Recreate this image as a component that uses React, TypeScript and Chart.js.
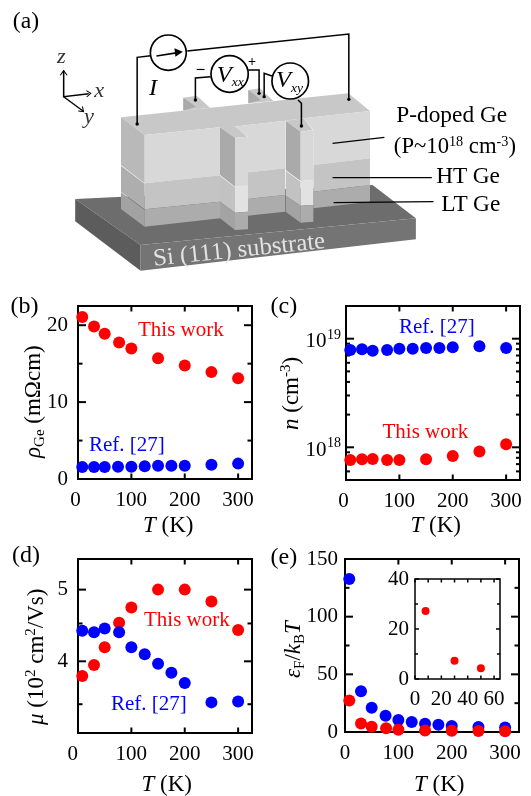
import React, { useEffect, useRef } from "react";
import { Chart, registerables } from "chart.js";

Chart.register(...registerables);

const RED = "#ff0000";
const BLUE = "#0000ff";
const SERIF = "'Liberation Serif', serif";

const rhoRedT = [8, 30, 50, 77, 100, 150, 200, 250, 300];
const rhoRed = [21.08, 19.83, 18.9, 17.75, 16.97, 15.7, 14.76, 13.9, 13.1];
const rhoBlueT = [8, 30, 50, 75, 100, 125, 150, 175, 200, 250, 300];
const rhoBlue = [1.56, 1.56, 1.56, 1.6, 1.6, 1.65, 1.73, 1.73, 1.73, 1.86, 2.0];

const nRedT = [8, 30, 50, 77, 100, 150, 200, 250, 300];
const nRed = [7.65e17, 7.76e17, 7.82e17, 7.65e17, 7.65e17, 7.76e17, 8.33e17, 9.13e17, 1.065e18];
const nBlueT = [8, 30, 50, 77, 100, 125, 150, 175, 200, 250, 300];
const nBlue = [7.87e18, 7.98e18, 7.76e18, 7.87e18, 8.1e18, 8.1e18, 8.2e18, 8.2e18, 8.33e18, 8.5e18, 8.2e18];

const muRedT = [8, 30, 50, 77, 100, 150, 200, 250, 300];
const muRed = [3.82, 3.954, 4.18, 4.51, 4.73, 5.0, 5.0, 4.82, 4.41];
const muBlueT = [8, 30, 50, 77, 100, 125, 150, 175, 200, 250, 300];
const muBlue = [4.4, 4.38, 4.43, 4.38, 4.18, 4.09, 3.97, 3.86, 3.74, 3.52, 3.53];

const efRedT = [8, 30, 50, 77, 100, 150, 200, 250, 300];
const efRed = [27.4, 7.4, 4.5, 3.2, 2, 1.4, 1.15, 0.86, 0.58];
const efBlueT = [8, 30, 50, 76, 100, 125, 150, 175, 200, 250, 300];
const efBlue = [132.6, 35.4, 21, 14.1, 10.4, 8.6, 7.2, 6.3, 5.2, 4.3, 4.0];

const insetT = [8, 30, 50];
const insetEf = [27.2, 7.3, 4.3];

const tempTicks = [0, 100, 200, 300];
const rhoTicks = [0, 10, 20];
const rhoMinor = [5, 15];
const nTicks = [1e18, 1e19];
const nMinor = [6e17, 7e17, 8e17, 9e17, 2e18, 3e18, 4e18, 5e18, 6e18, 7e18, 8e18, 9e18];
const muTicks = [4, 5];
const muMinor = [3.5, 4.5];
const efTicks = [0, 50, 100, 150];
const efMinor = [25, 75, 125];
const insetXTicks = [0, 20, 40, 60];
const insetXMinor = [10, 30, 50];
const insetYTicks = [0, 20, 40];
const insetYMinor = [10, 30];
const noTicks: number[] = [];

const frameTicks = {
  id: "frameTicks",
  beforeDatasetsDraw(chart: any, _a: any, o: any) {
    const { ctx, chartArea: a, scales } = chart;
    ctx.save();
    ctx.strokeStyle = "#000";
    ctx.lineWidth = o.line;
    ctx.strokeRect(a.left, a.top, a.right - a.left, a.bottom - a.top);
    const tick = (x1: number, y1: number, x2: number, y2: number) => {
      ctx.beginPath();
      ctx.moveTo(x1, y1);
      ctx.lineTo(x2, y2);
      ctx.stroke();
    };
    const xs = (vals: number[], len: number) =>
      vals.forEach((v) => {
        const p = scales.x.getPixelForValue(v);
        tick(p, a.bottom, p, a.bottom - len);
        tick(p, a.top, p, a.top + len);
      });
    const ys = (vals: number[], len: number) =>
      vals.forEach((v) => {
        const p = scales.y.getPixelForValue(v);
        tick(a.left, p, a.left + len, p);
        tick(a.right, p, a.right - len, p);
      });
    xs(o.xMajor, o.xLen);
    xs(o.xMinor, o.xLen);
    ys(o.yMajor, o.yLen);
    ys(o.yMinor, o.yMinLen);
    ctx.restore();
  },
  afterDraw(chart: any, _a: any, o: any) {
    if (!o.powerLabels) return;
    const { ctx, scales, chartArea: a } = chart;
    ctx.save();
    ctx.fillStyle = "#000";
    ctx.textAlign = "left";
    ctx.textBaseline = "alphabetic";
    o.yMajor.forEach((v: number) => {
      const p = scales.y.getPixelForValue(v);
      ctx.font = `21px ${SERIF}`;
      ctx.fillText("10", a.left - 40.5, p + 8.5);
      ctx.font = `14px ${SERIF}`;
      ctx.fillText(String(Math.round(Math.log10(v))), a.left - 19, p);
    });
    ctx.restore();
  },
};

type P = {
  l: number; r: number; t: number; b: number;
  xMax: number;
  yType: string; yMin: number; yMax: number;
  xMajor: number[]; xMinor: number[]; yMajor: number[]; yMinor: number[];
  series: { xs: number[]; ys: number[]; color: string }[];
  radius: number; yPad: number; xPad: number;
  zero: string; line: number; xLen: number; yLen: number; yMinLen: number;
  powerLabels?: boolean;
};

function Panel({ p }: { p: P }) {
  const ref = useRef<HTMLCanvasElement>(null);
  const L = 70, R = 30, T = 10, B = 35;
  useEffect(() => {
    const fix = (s: any) => {
      s.paddingLeft = 0; s.paddingRight = 0; s.paddingTop = 0; s.paddingBottom = 0;
    };
    const chart = new Chart(ref.current!, {
      type: "scatter",
      data: {
        datasets: p.series.map((s) => ({
          data: s.xs.map((x, i) => ({ x, y: s.ys[i] })),
          backgroundColor: s.color,
          borderWidth: 0,
          pointRadius: p.radius,
          clip: false as any,
        })),
      },
      plugins: [frameTicks as any],
      options: {
        animation: false,
        responsive: false,
        layout: { padding: { left: 0, right: R, top: T, bottom: 0 } },
        plugins: {
          legend: { display: false },
          tooltip: { enabled: false },
          frameTicks: {
            xMajor: p.xMajor, xMinor: p.xMinor, yMajor: p.yMajor, yMinor: p.yMinor,
            powerLabels: !!p.powerLabels,
            line: p.line, xLen: p.xLen, yLen: p.yLen, yMinLen: p.yMinLen,
          },
        } as any,
        scales: {
          x: {
            type: "linear",
            min: 0,
            max: p.xMax,
            grid: { display: false, drawTicks: false },
            border: { display: false },
            afterBuildTicks: (s: any) => { s.ticks = p.xMajor.map((value) => ({ value })); },
            afterFit: (s: any) => { s.height = B; fix(s); },
            ticks: {
              maxRotation: 0,
              autoSkip: false,
              padding: p.xPad,
              color: "#000",
              font: { family: SERIF, size: 21 },
              callback: (v: any) => (v === 0 ? p.zero : String(v)),
            },
          },
          y: {
            type: p.yType as any,
            min: p.yMin,
            max: p.yMax,
            grid: { display: false, drawTicks: false },
            border: { display: false },
            afterBuildTicks: (s: any) => { s.ticks = p.yMajor.map((value) => ({ value })); },
            afterFit: (s: any) => { s.width = L; fix(s); },
            ticks: {
              maxRotation: 0,
              autoSkip: false,
              padding: p.yPad,
              color: "#000",
              font: { family: SERIF, size: 21 },
              callback: (v: any) => (p.powerLabels ? "" : String(v)),
            },
          },
        },
      } as any,
    });
    return () => chart.destroy();
  }, []);
  const w = p.r - p.l + L + R;
  const h = p.b - p.t + T + B;
  return (
    <canvas
      ref={ref}
      width={w}
      height={h}
      style={{ position: "absolute", left: p.l - L, top: p.t - T, width: w, height: h }}
    />
  );
}

const mainStyle = { line: 2, xLen: 5.5, yLen: 8, yMinLen: 4.5, radius: 6, xPad: 9 };

const panels: P[] = [
  {
    ...mainStyle,
    l: 78, r: 252, t: 306, b: 479, xMax: 326, yType: "linear", yMin: 0, yMax: 22.5, zero: "0\u00a0",
    xMajor: tempTicks, xMinor: noTicks, yMajor: rhoTicks, yMinor: rhoMinor, yPad: 10,
    series: [
      { xs: rhoRedT, ys: rhoRed, color: RED },
      { xs: rhoBlueT, ys: rhoBlue, color: BLUE },
    ],
  },
  {
    ...mainStyle,
    l: 346, r: 520, t: 306, b: 480, xMax: 326, yType: "logarithmic", yMin: 5e17, yMax: 2e19, zero: "0\u00a0",
    xMajor: tempTicks, xMinor: noTicks, yMajor: nTicks, yMinor: nMinor, yPad: 9, powerLabels: true, yMinLen: 4,
    series: [
      { xs: nRedT, ys: nRed, color: RED },
      { xs: nBlueT, ys: nBlue, color: BLUE },
    ],
  },
  {
    ...mainStyle,
    l: 78, r: 252, t: 559, b: 733, xMax: 326, yType: "logarithmic", yMin: 3.2, yMax: 5.5, zero: "0\u00a0\u00a0",
    xMajor: tempTicks, xMinor: noTicks, yMajor: muTicks, yMinor: muMinor, yPad: 10,
    series: [
      { xs: muBlueT, ys: muBlue, color: BLUE },
      { xs: muRedT, ys: muRed, color: RED },
    ],
  },
  {
    ...mainStyle,
    l: 345, r: 519, t: 559, b: 732, xMax: 326, yType: "linear", yMin: 0, yMax: 150, zero: "0",
    xMajor: tempTicks, xMinor: noTicks, yMajor: efTicks, yMinor: efMinor, yPad: 7,
    series: [
      { xs: efRedT, ys: efRed, color: RED },
      { xs: efBlueT, ys: efBlue, color: BLUE },
    ],
  },
  {
    l: 415, r: 500, t: 579, b: 679, xMax: 64.5, yType: "linear", yMin: 0, yMax: 40, zero: "0",
    xMajor: insetXTicks, xMinor: insetXMinor, yMajor: insetYTicks, yMinor: insetYMinor,
    radius: 4, yPad: 6, xPad: 8, line: 1.5, xLen: 3.5, yLen: 4, yMinLen: 3,
    series: [{ xs: insetT, ys: insetEf, color: RED }],
  },
];

const T = (x: number, y: number, s: React.ReactNode, o: any = {}) => (
  <text x={x} y={y} fontFamily={SERIF} fontSize={21} {...o}>{s}</text>
);

const Rot = ({ x, y, children, size = 21 }: any) => (
  <text transform={`translate(${x},${y}) rotate(-90)`} fontFamily={SERIF} fontSize={size}>{children}</text>
);

const TK = ({ x, y }: { x: number; y: number }) => (
  <text x={x} y={y} fontFamily={SERIF} fontSize={23}>
    <tspan fontStyle="italic">T</tspan> (K)
  </text>
);

function Dot({ x, y }: { x: number; y: number }) {
  return <circle cx={x} cy={y} r={5} fill="#000" />;
}

function Schematic() {
  const wire = { fill: "none", stroke: "#000", strokeWidth: 4.5 };
  const ring = { fill: "#fff", stroke: "#000", strokeWidth: 5 };
  const tx = { fontFamily: SERIF, fontSize: 66 };
  const top = "#c8c8c8", sideP = "#b9b9b9", sideH = "#aeaeae", sideL = "#a2a2a2";
  const faceP = "#d8d8d8", faceH = "#c4c4c4", faceL = "#acacac";
  const wallP = "#aaaaaa", wallH = "#c2c2c2", wallL = "#a3a3a3", strip = "#e2e2e2";
  return (
    <g transform="scale(0.33333)">
      <g transform="scale(1.016,1)">
        <polygon points="222,597 1100,555 1228,655 415,735" fill="#6d6d6d" />
        <polygon points="222,597 415,735 415,812 222,664" fill="#5c5c5c" />
        <polygon points="415,735 1228,655 1228,718 415,812" fill="#747474" />
      </g>
      <polygon points="550,293 590,287 630,323 550,332" fill={top} />
      <polygon points="550,293 588,320 550,332" fill={wallP} />
      <polygon points="745,270 780,265 820,303 745,310" fill={top} />
      <polygon points="745,270 783,300 745,310" fill={wallP} />
      <polygon points="363,352 878,297 1045,280 1110,333 910,355 857,362 702,380 660,382 434,405" fill={top} />
      <polygon points="363,352 434,405 434,550 363,495" fill={sideP} />
      <polygon points="363,497 434,551 434,628 363,575" fill={sideH} />
      <polygon points="363,577 434,630 434,680 363,627" fill={sideL} />
      <polygon points="434,405 660,382 660,526 434,550" fill={faceP} />
      <polygon points="434,550 660,526 660,605 434,628" fill={faceH} />
      <polygon points="434,628 660,605 660,655 434,680" fill={faceL} />
      <polygon points="702,380 855,362 855,505 744,517 744,410" fill={faceP} />
      <polygon points="744,517 855,505 855,585 744,597" fill={faceH} />
      <polygon points="744,597 855,585 855,635 744,647" fill={faceL} />
      <polygon points="660,382 702,378 742,410 705,413" fill={top} />
      <polygon points="660,382 705,413 705,560 660,525" fill={wallP} />
      <polygon points="660,527 705,562 705,638 660,605" fill={wallH} />
      <polygon points="660,605 705,638 705,690 660,655" fill={wallL} />
      <polygon points="705,413 744,410 744,557 705,560" fill={faceP} />
      <polygon points="705,560 744,557 744,635 705,638" fill={strip} />
      <polygon points="705,638 744,635 744,688 705,690" fill={faceL} />
      <polygon points="910,355 1110,333 1110,475 940,495 940,390" fill={faceP} />
      <polygon points="940,495 1110,475 1110,555 940,575" fill={faceH} />
      <polygon points="940,575 1110,555 1110,605 940,625" fill={faceL} />
      <polygon points="857,362 910,355 938,390 902,395" fill={top} />
      <polygon points="857,362 902,395 902,543 857,510" fill={wallP} />
      <polygon points="857,512 902,545 902,617 857,587" fill={wallH} />
      <polygon points="857,587 902,617 902,668 857,635" fill={wallL} />
      <polygon points="902,395 940,390 940,540 902,543" fill={faceP} />
      <polygon points="902,543 940,540 940,615 902,617" fill={strip} />
      <polygon points="902,617 940,615 940,665 902,668" fill={faceL} />

      <g transform="scale(1.016,1)">
        <polyline points="405,372 405,172 445,167" {...wire} />
        <polyline points="553,153 1030,102 1030,298" {...wire} />
        <polyline points="622,230 577,234 577,300" {...wire} />
        <polyline points="733,210 765,210 765,280" {...wire} />
        <polyline points="803,228 780,220 780,290" {...wire} />
        <polyline points="880,300 890,310 890,378" {...wire} />
        <circle cx={497} cy={158} r={53} {...ring} />
        <circle cx={678} cy={222} r={55} {...ring} />
        <circle cx={857} cy={243} r={54} {...ring} />
        <line x1={462} y1={168} x2={525} y2={158} stroke="#000" strokeWidth={5} />
        <polygon points="540,155 515,145 518,170" fill="#000" />
        <Dot x={405} y={372} /><Dot x={1030} y={298} /><Dot x={577} y={300} />
        <Dot x={765} y={280} /><Dot x={780} y={290} /><Dot x={890} y={378} />

        <polyline points="188,212 188,290 262,281" {...wire} />
        <polyline points="178,226 188,212 198,226" {...wire} strokeWidth={3} />
        <polyline points="255,272 268,280 256,291" {...wire} strokeWidth={3} />
        <line x1={188} y1={290} x2={245} y2={333} stroke="#000" strokeWidth={4} />
        <polyline points="231,333 247,335 243,319" {...wire} strokeWidth={3} />

        <line x1={982} y1={430} x2={1135} y2={412} stroke="#000" strokeWidth={3.5} />
        <line x1={982} y1={533} x2={1275} y2={533} stroke="#000" strokeWidth={3.5} />
        <line x1={985} y1={608} x2={1280} y2={605} stroke="#000" strokeWidth={3.5} />

        <text x={38} y={85} {...tx} fontSize={70}>(a)</text>
        <text x={168} y={190} {...tx} fontStyle="italic" fill="#333">z</text>
        <text x={278} y={290} {...tx} fontStyle="italic" fill="#333">x</text>
        <text x={248} y={368} {...tx} fontStyle="italic" fill="#333">y</text>
        <text x={440} y={286} {...tx} fontSize={72} fontStyle="italic">I</text>
        <text x={578} y={225} fontFamily={SERIF} fontSize={50} fontWeight="bold">−</text>
        <text x={732} y={198} fontFamily={SERIF} fontSize={42} fontWeight="bold">+</text>
        <text x={640} y={245} {...tx} fontSize={72} fontStyle="italic">V<tspan fontSize={40} dy={14}>xx</tspan></text>
        <text x={815} y={262} {...tx} fontSize={72} fontStyle="italic">V<tspan fontSize={40} dy={14}>xy</tspan></text>
        <text x={1170} y={365} {...tx} fontSize={69}>P-doped Ge</text>
        <text x={1163} y={460} {...tx} fontSize={67}>(P~10<tspan fontSize={42} dy={-22}>18</tspan><tspan dy={22}> cm</tspan><tspan fontSize={42} dy={-22}>-3</tspan><tspan dy={22}>)</tspan></text>
        <text x={1288} y={550} {...tx} fontSize={69}>HT Ge</text>
        <text x={1303} y={634} {...tx} fontSize={69}>LT Ge</text>
        <text transform="translate(455,797) rotate(-6)" fontFamily={SERIF} fontSize={73} fill="#e3e3e3">Si (111) substrate</text>
      </g>
    </g>
  );
}

export default function App() {
  return (
    <div style={{ position: "absolute", left: 0, top: 0, width: 531, height: 796, background: "#fff", overflow: "hidden", filter: "blur(0.35px)" }}>
      {panels.map((p, i) => <Panel key={i} p={p} />)}
      <svg width={531} height={796} style={{ position: "absolute", left: 0, top: 0, pointerEvents: "none" }}>
        <Schematic />
        {T(10.5, 313, "(b)", { fontSize: 24 })}
        {T(270.5, 313, "(c)", { fontSize: 24 })}
        {T(12, 562, "(d)", { fontSize: 24 })}
        {T(270.5, 564, "(e)", { fontSize: 24 })}
        {T(138, 336, "This work", { fill: RED })}
        {T(89, 451, "Ref. [27]", { fill: BLUE })}
        {T(399, 332.5, "Ref. [27]", { fill: BLUE })}
        {T(382.5, 438, "This work", { fill: RED })}
        {T(144, 626, "This work", { fill: RED })}
        {T(111, 710, "Ref. [27]", { fill: BLUE })}
        <TK x={143} y={531.5} />
        <TK x={410.5} y={531.5} />
        <TK x={141.5} y={791} />
        <TK x={414} y={791} />
        <Rot x={40} y={458} size={23}>
          <tspan fontStyle="italic">ρ</tspan><tspan fontSize={15} dy={4}>Ge</tspan><tspan dy={-4}> (mΩcm)</tspan>
        </Rot>
        <Rot x={298} y={430} size={23}>
          <tspan fontStyle="italic">n</tspan> (cm<tspan fontSize={15} dy={-8}>-3</tspan><tspan dy={8}>)</tspan>
        </Rot>
        <Rot x={43} y={725} size={23}>
          <tspan fontStyle="italic">μ</tspan> (10<tspan fontSize={15} dy={-8}>2</tspan><tspan dy={8}> cm</tspan><tspan fontSize={15} dy={-8}>2</tspan><tspan dy={8}>/Vs)</tspan>
        </Rot>
        <Rot x={300} y={678} size={23}>
          <tspan fontStyle="italic">ε</tspan><tspan fontSize={15} dy={4}>F</tspan><tspan dy={-4}>/</tspan><tspan fontStyle="italic">k</tspan><tspan fontSize={15} dy={4}>B</tspan><tspan dy={-4} fontStyle="italic">T</tspan>
        </Rot>
      </svg>
    </div>
  );
}
